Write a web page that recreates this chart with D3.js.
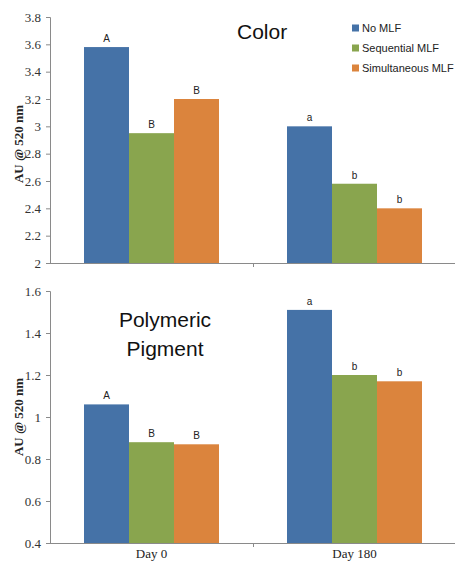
<!DOCTYPE html>
<html>
<head>
<meta charset="utf-8">
<script src="https://cdn.jsdelivr.net/npm/d3@7"></script>
<style>
  html, body { margin: 0; padding: 0; background: #fff; }
  svg { display: block; }
</style>
</head>
<body>
<svg id="chart" width="455" height="561"></svg>
<script>
const categories = ["Day 0", "Day 180"];
const series = ["No MLF", "Sequential MLF", "Simultaneous MLF"];
const colors = ["#4572A7", "#89A54E", "#DB843D"];

const colorValues = [[3.58, 2.95, 3.20], [3.00, 2.58, 2.40]];
const colorLetters = [["A", "B", "B"], ["a", "b", "b"]];
const colorTicks = [2, 2.2, 2.4, 2.6, 2.8, 3, 3.2, 3.4, 3.6, 3.8];

const pigmentValues = [[1.06, 0.88, 0.87], [1.51, 1.20, 1.17]];
const pigmentLetters = [["A", "B", "B"], ["a", "b", "b"]];
const pigmentTicks = [0.4, 0.6, 0.8, 1, 1.2, 1.4, 1.6];

const yTitle = "AU @ 520 nm";

const svg = d3.select("#chart");
const axisColor = "#8a8a8a";
const serif = "'Liberation Serif', 'Times New Roman', serif";
const sans = "'Liberation Sans', Arial, sans-serif";

const x0 = d3.scaleBand().domain(categories).range([50, 456]).padding(0);
const x1 = d3.scaleBand().domain(series).range([34, 169]).padding(0);

function panel(values, letters, ticks, top, bottom, titleY) {
  const y = d3.scaleLinear().domain([ticks[0], ticks[ticks.length - 1]]).range([bottom, top]);
  const g = svg.append("g");

  // bars
  categories.forEach((c, ci) => {
    series.forEach((s, si) => {
      const v = values[ci][si];
      g.append("rect")
        .attr("x", x0(c) + x1(s))
        .attr("y", y(v))
        .attr("width", x1.bandwidth())
        .attr("height", y(ticks[0]) - y(v))
        .attr("fill", colors[si]);
      g.append("text")
        .attr("x", x0(c) + x1(s) + x1.bandwidth() / 2)
        .attr("y", y(v) - 5)
        .attr("text-anchor", "middle")
        .attr("font-family", sans)
        .attr("font-size", 10)
        .attr("fill", "#222")
        .text(letters[ci][si]);
    });
  });

  // y axis
  const ya = g.append("g").attr("transform", "translate(50,0)")
    .call(d3.axisLeft(y).tickValues(ticks).tickSize(4).tickPadding(5)
      .tickFormat(d => String(+d.toFixed(1))));
  ya.select(".domain").attr("stroke", axisColor);
  ya.selectAll(".tick line").attr("stroke", axisColor);
  ya.selectAll(".tick text").attr("font-family", serif).attr("font-size", 13).attr("fill", "#333");

  // x axis line
  g.append("line")
    .attr("x1", x0.range()[0]).attr("x2", x0.range()[1])
    .attr("y1", y(ticks[0]) + 0.5).attr("y2", y(ticks[0]) + 0.5)
    .attr("stroke", axisColor);
  categories.slice(1).forEach(c => {
    g.append("line")
      .attr("x1", x0(c) + 0.5).attr("x2", x0(c) + 0.5)
      .attr("y1", y(ticks[0])).attr("y2", y(ticks[0]) + 4)
      .attr("stroke", axisColor);
  });

  // y title
  g.append("text")
    .attr("transform", `translate(23,${titleY}) rotate(-90)`)
    .attr("text-anchor", "middle")
    .attr("font-family", serif)
    .attr("font-weight", "bold")
    .attr("font-size", 13)
    .attr("fill", "#222")
    .text(yTitle);
  return y;
}

panel(colorValues, colorLetters, colorTicks, 17, 263, 144);
panel(pigmentValues, pigmentLetters, pigmentTicks, 291, 543, 417);

// category labels (bottom panel)
categories.forEach(c => {
  svg.append("text")
    .attr("x", x0(c) + x0.bandwidth() / 2)
    .attr("y", 558)
    .attr("text-anchor", "middle")
    .attr("font-family", serif)
    .attr("font-size", 13)
    .attr("fill", "#222")
    .text(c);
});

// panel titles
svg.append("text")
  .attr("x", 237).attr("y", 39)
  .attr("font-family", sans).attr("font-size", 21).attr("fill", "#111")
  .text("Color");
svg.append("text")
  .attr("x", 165).attr("y", 327).attr("text-anchor", "middle")
  .attr("font-family", sans).attr("font-size", 21).attr("fill", "#111")
  .text("Polymeric");
svg.append("text")
  .attr("x", 165).attr("y", 356).attr("text-anchor", "middle")
  .attr("font-family", sans).attr("font-size", 21).attr("fill", "#111")
  .text("Pigment");

// legend
const legend = svg.append("g");
series.forEach((s, i) => {
  const ly = 28 + i * 20;
  legend.append("rect")
    .attr("x", 352).attr("y", ly - 3.5).attr("width", 7).attr("height", 7)
    .attr("fill", colors[i]);
  legend.append("text")
    .attr("x", 362).attr("y", ly + 4)
    .attr("font-family", sans).attr("font-size", 11).attr("fill", "#222")
    .text(s);
});
</script>
</body>
</html>
